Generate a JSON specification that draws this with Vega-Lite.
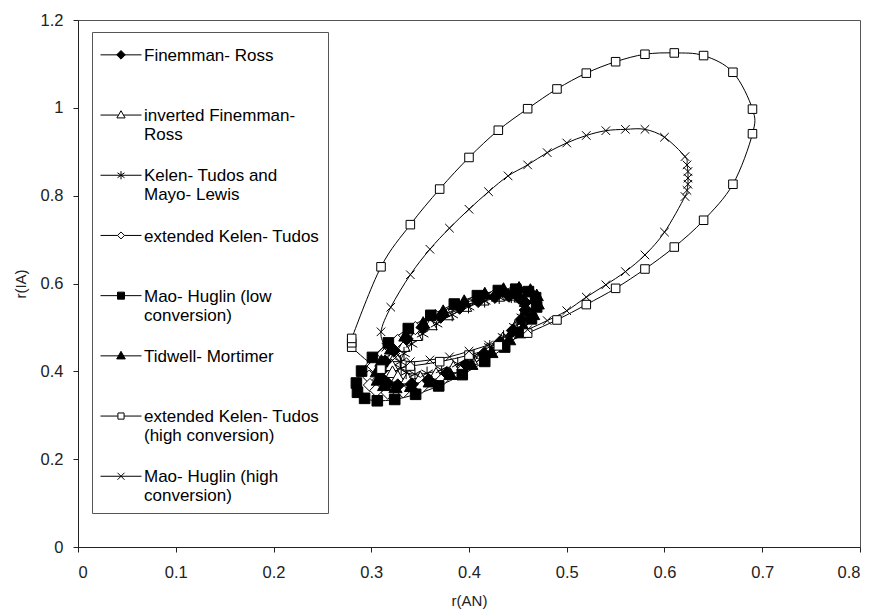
{
  "$schema": "https://vega.github.io/schema/vega-lite/v6.json",
  "width": 782,
  "height": 527,
  "autosize": {"type": "none"},
  "padding": {"left": 78, "top": 20, "right": 13, "bottom": 67},
  "background": "white",
  "config": {
    "view": {"stroke": "#555", "strokeWidth": 1},
    "font": "Liberation Sans",
    "legend": {"symbolStrokeColor": "black", "symbolStrokeWidth": 1, "symbolOpacity": 1}
  },
  "data": {"values": [
    {"s":"inverted Finemman- Ross","i":0,"x":0.4583,"y":0.5588},{"s":"inverted Finemman- Ross","i":1,"x":0.4528,"y":0.5691},{"s":"inverted Finemman- Ross","i":2,"x":0.4431,"y":0.5733},{"s":"inverted Finemman- Ross","i":3,"x":0.4297,"y":0.571},{"s":"inverted Finemman- Ross","i":4,"x":0.4137,"y":0.5623},{"s":"inverted Finemman- Ross","i":5,"x":0.396,"y":0.5479},{"s":"inverted Finemman- Ross","i":6,"x":0.3779,"y":0.5287},{"s":"inverted Finemman- Ross","i":7,"x":0.3607,"y":0.5061},{"s":"inverted Finemman- Ross","i":8,"x":0.3454,"y":0.4815},{"s":"inverted Finemman- Ross","i":9,"x":0.3331,"y":0.4567},{"s":"inverted Finemman- Ross","i":10,"x":0.3248,"y":0.4334},{"s":"inverted Finemman- Ross","i":11,"x":0.3209,"y":0.4131},{"s":"inverted Finemman- Ross","i":12,"x":0.3217,"y":0.3972},{"s":"inverted Finemman- Ross","i":13,"x":0.3272,"y":0.3869},{"s":"inverted Finemman- Ross","i":14,"x":0.3369,"y":0.3827},{"s":"inverted Finemman- Ross","i":15,"x":0.3503,"y":0.385},{"s":"inverted Finemman- Ross","i":16,"x":0.3663,"y":0.3937},{"s":"inverted Finemman- Ross","i":17,"x":0.384,"y":0.4081},{"s":"inverted Finemman- Ross","i":18,"x":0.4021,"y":0.4273},{"s":"inverted Finemman- Ross","i":19,"x":0.4193,"y":0.4499},{"s":"inverted Finemman- Ross","i":20,"x":0.4346,"y":0.4745},{"s":"inverted Finemman- Ross","i":21,"x":0.4469,"y":0.4993},{"s":"inverted Finemman- Ross","i":22,"x":0.4552,"y":0.5226},{"s":"inverted Finemman- Ross","i":23,"x":0.4591,"y":0.5429},
    {"s":"Kelen- Tudos and Mayo- Lewis","i":0,"x":0.4574,"y":0.557},{"s":"Kelen- Tudos and Mayo- Lewis","i":1,"x":0.4523,"y":0.5666},{"s":"Kelen- Tudos and Mayo- Lewis","i":2,"x":0.4433,"y":0.5705},{"s":"Kelen- Tudos and Mayo- Lewis","i":3,"x":0.4309,"y":0.5683},{"s":"Kelen- Tudos and Mayo- Lewis","i":4,"x":0.416,"y":0.5602},{"s":"Kelen- Tudos and Mayo- Lewis","i":5,"x":0.3995,"y":0.5469},{"s":"Kelen- Tudos and Mayo- Lewis","i":6,"x":0.3828,"y":0.529},{"s":"Kelen- Tudos and Mayo- Lewis","i":7,"x":0.3668,"y":0.5081},{"s":"Kelen- Tudos and Mayo- Lewis","i":8,"x":0.3526,"y":0.4853},{"s":"Kelen- Tudos and Mayo- Lewis","i":9,"x":0.3412,"y":0.4623},{"s":"Kelen- Tudos and Mayo- Lewis","i":10,"x":0.3335,"y":0.4406},{"s":"Kelen- Tudos and Mayo- Lewis","i":11,"x":0.3298,"y":0.4217},{"s":"Kelen- Tudos and Mayo- Lewis","i":12,"x":0.3306,"y":0.407},{"s":"Kelen- Tudos and Mayo- Lewis","i":13,"x":0.3357,"y":0.3974},{"s":"Kelen- Tudos and Mayo- Lewis","i":14,"x":0.3447,"y":0.3935},{"s":"Kelen- Tudos and Mayo- Lewis","i":15,"x":0.3571,"y":0.3957},{"s":"Kelen- Tudos and Mayo- Lewis","i":16,"x":0.372,"y":0.4038},{"s":"Kelen- Tudos and Mayo- Lewis","i":17,"x":0.3885,"y":0.4171},{"s":"Kelen- Tudos and Mayo- Lewis","i":18,"x":0.4052,"y":0.435},{"s":"Kelen- Tudos and Mayo- Lewis","i":19,"x":0.4212,"y":0.4559},{"s":"Kelen- Tudos and Mayo- Lewis","i":20,"x":0.4354,"y":0.4787},{"s":"Kelen- Tudos and Mayo- Lewis","i":21,"x":0.4468,"y":0.5017},{"s":"Kelen- Tudos and Mayo- Lewis","i":22,"x":0.4545,"y":0.5234},{"s":"Kelen- Tudos and Mayo- Lewis","i":23,"x":0.4582,"y":0.5423},
    {"s":"extended Kelen- Tudos","i":0,"x":0.4613,"y":0.5612},{"s":"extended Kelen- Tudos","i":1,"x":0.4548,"y":0.5735},{"s":"extended Kelen- Tudos","i":2,"x":0.4432,"y":0.5784},{"s":"extended Kelen- Tudos","i":3,"x":0.4273,"y":0.5757},{"s":"extended Kelen- Tudos","i":4,"x":0.4082,"y":0.5653},{"s":"extended Kelen- Tudos","i":5,"x":0.3871,"y":0.5482},{"s":"extended Kelen- Tudos","i":6,"x":0.3656,"y":0.5253},{"s":"extended Kelen- Tudos","i":7,"x":0.3451,"y":0.4984},{"s":"extended Kelen- Tudos","i":8,"x":0.3269,"y":0.4692},{"s":"extended Kelen- Tudos","i":9,"x":0.3123,"y":0.4397},{"s":"extended Kelen- Tudos","i":10,"x":0.3024,"y":0.4119},{"s":"extended Kelen- Tudos","i":11,"x":0.2977,"y":0.3877},{"s":"extended Kelen- Tudos","i":12,"x":0.2987,"y":0.3688},{"s":"extended Kelen- Tudos","i":13,"x":0.3052,"y":0.3565},{"s":"extended Kelen- Tudos","i":14,"x":0.3168,"y":0.3516},{"s":"extended Kelen- Tudos","i":15,"x":0.3327,"y":0.3543},{"s":"extended Kelen- Tudos","i":16,"x":0.3518,"y":0.3647},{"s":"extended Kelen- Tudos","i":17,"x":0.3729,"y":0.3818},{"s":"extended Kelen- Tudos","i":18,"x":0.3944,"y":0.4047},{"s":"extended Kelen- Tudos","i":19,"x":0.4149,"y":0.4316},{"s":"extended Kelen- Tudos","i":20,"x":0.4331,"y":0.4608},{"s":"extended Kelen- Tudos","i":21,"x":0.4477,"y":0.4903},{"s":"extended Kelen- Tudos","i":22,"x":0.4576,"y":0.5181},{"s":"extended Kelen- Tudos","i":23,"x":0.4623,"y":0.5423},
    {"s":"Finemman- Ross","i":0,"x":0.4572,"y":0.5566},{"s":"Finemman- Ross","i":1,"x":0.4513,"y":0.5677},{"s":"Finemman- Ross","i":2,"x":0.4409,"y":0.5721},{"s":"Finemman- Ross","i":3,"x":0.4266,"y":0.5696},{"s":"Finemman- Ross","i":4,"x":0.4094,"y":0.5603},{"s":"Finemman- Ross","i":5,"x":0.3904,"y":0.5449},{"s":"Finemman- Ross","i":6,"x":0.371,"y":0.5243},{"s":"Finemman- Ross","i":7,"x":0.3526,"y":0.5001},{"s":"Finemman- Ross","i":8,"x":0.3362,"y":0.4738},{"s":"Finemman- Ross","i":9,"x":0.3231,"y":0.4472},{"s":"Finemman- Ross","i":10,"x":0.3142,"y":0.4222},{"s":"Finemman- Ross","i":11,"x":0.3099,"y":0.4004},{"s":"Finemman- Ross","i":12,"x":0.3108,"y":0.3834},{"s":"Finemman- Ross","i":13,"x":0.3167,"y":0.3723},{"s":"Finemman- Ross","i":14,"x":0.3271,"y":0.3679},{"s":"Finemman- Ross","i":15,"x":0.3414,"y":0.3704},{"s":"Finemman- Ross","i":16,"x":0.3586,"y":0.3797},{"s":"Finemman- Ross","i":17,"x":0.3776,"y":0.3951},{"s":"Finemman- Ross","i":18,"x":0.397,"y":0.4157},{"s":"Finemman- Ross","i":19,"x":0.4154,"y":0.4399},{"s":"Finemman- Ross","i":20,"x":0.4318,"y":0.4662},{"s":"Finemman- Ross","i":21,"x":0.4449,"y":0.4928},{"s":"Finemman- Ross","i":22,"x":0.4538,"y":0.5178},{"s":"Finemman- Ross","i":23,"x":0.4581,"y":0.5396},
    {"s":"Mao- Huglin (low conversion)","i":0,"x":0.4681,"y":0.5677},{"s":"Mao- Huglin (low conversion)","i":1,"x":0.4608,"y":0.5815},{"s":"Mao- Huglin (low conversion)","i":2,"x":0.4478,"y":0.587},{"s":"Mao- Huglin (low conversion)","i":3,"x":0.43,"y":0.584},{"s":"Mao- Huglin (low conversion)","i":4,"x":0.4086,"y":0.5723},{"s":"Mao- Huglin (low conversion)","i":5,"x":0.385,"y":0.5532},{"s":"Mao- Huglin (low conversion)","i":6,"x":0.3609,"y":0.5275},{"s":"Mao- Huglin (low conversion)","i":7,"x":0.3379,"y":0.4974},{"s":"Mao- Huglin (low conversion)","i":8,"x":0.3175,"y":0.4647},{"s":"Mao- Huglin (low conversion)","i":9,"x":0.3012,"y":0.4317},{"s":"Mao- Huglin (low conversion)","i":10,"x":0.2901,"y":0.4005},{"s":"Mao- Huglin (low conversion)","i":11,"x":0.2848,"y":0.3734},{"s":"Mao- Huglin (low conversion)","i":12,"x":0.2859,"y":0.3523},{"s":"Mao- Huglin (low conversion)","i":13,"x":0.2932,"y":0.3385},{"s":"Mao- Huglin (low conversion)","i":14,"x":0.3062,"y":0.333},{"s":"Mao- Huglin (low conversion)","i":15,"x":0.324,"y":0.336},{"s":"Mao- Huglin (low conversion)","i":16,"x":0.3454,"y":0.3477},{"s":"Mao- Huglin (low conversion)","i":17,"x":0.369,"y":0.3668},{"s":"Mao- Huglin (low conversion)","i":18,"x":0.3931,"y":0.3925},{"s":"Mao- Huglin (low conversion)","i":19,"x":0.4161,"y":0.4226},{"s":"Mao- Huglin (low conversion)","i":20,"x":0.4365,"y":0.4553},{"s":"Mao- Huglin (low conversion)","i":21,"x":0.4528,"y":0.4883},{"s":"Mao- Huglin (low conversion)","i":22,"x":0.4639,"y":0.5195},{"s":"Mao- Huglin (low conversion)","i":23,"x":0.4692,"y":0.5466},
    {"s":"Tidwell- Mortimer","i":0,"x":0.4693,"y":0.5722},{"s":"Tidwell- Mortimer","i":1,"x":0.4628,"y":0.5845},{"s":"Tidwell- Mortimer","i":2,"x":0.4512,"y":0.5894},{"s":"Tidwell- Mortimer","i":3,"x":0.4353,"y":0.5867},{"s":"Tidwell- Mortimer","i":4,"x":0.4162,"y":0.5763},{"s":"Tidwell- Mortimer","i":5,"x":0.3951,"y":0.5592},{"s":"Tidwell- Mortimer","i":6,"x":0.3736,"y":0.5363},{"s":"Tidwell- Mortimer","i":7,"x":0.3531,"y":0.5094},{"s":"Tidwell- Mortimer","i":8,"x":0.3349,"y":0.4802},{"s":"Tidwell- Mortimer","i":9,"x":0.3203,"y":0.4507},{"s":"Tidwell- Mortimer","i":10,"x":0.3104,"y":0.4229},{"s":"Tidwell- Mortimer","i":11,"x":0.3057,"y":0.3987},{"s":"Tidwell- Mortimer","i":12,"x":0.3067,"y":0.3798},{"s":"Tidwell- Mortimer","i":13,"x":0.3132,"y":0.3675},{"s":"Tidwell- Mortimer","i":14,"x":0.3248,"y":0.3626},{"s":"Tidwell- Mortimer","i":15,"x":0.3407,"y":0.3653},{"s":"Tidwell- Mortimer","i":16,"x":0.3598,"y":0.3757},{"s":"Tidwell- Mortimer","i":17,"x":0.3809,"y":0.3928},{"s":"Tidwell- Mortimer","i":18,"x":0.4024,"y":0.4157},{"s":"Tidwell- Mortimer","i":19,"x":0.4229,"y":0.4426},{"s":"Tidwell- Mortimer","i":20,"x":0.4411,"y":0.4718},{"s":"Tidwell- Mortimer","i":21,"x":0.4557,"y":0.5013},{"s":"Tidwell- Mortimer","i":22,"x":0.4656,"y":0.5291},{"s":"Tidwell- Mortimer","i":23,"x":0.4703,"y":0.5533},
    {"s":"extended Kelen- Tudos (high conversion)","i":0,"x":0.28,"y":0.455},{"s":"extended Kelen- Tudos (high conversion)","i":1,"x":0.28,"y":0.465},{"s":"extended Kelen- Tudos (high conversion)","i":2,"x":0.28,"y":0.475},{"s":"extended Kelen- Tudos (high conversion)","i":3,"x":0.31,"y":0.638},{"s":"extended Kelen- Tudos (high conversion)","i":4,"x":0.34,"y":0.734},{"s":"extended Kelen- Tudos (high conversion)","i":5,"x":0.37,"y":0.815},{"s":"extended Kelen- Tudos (high conversion)","i":6,"x":0.4,"y":0.887},{"s":"extended Kelen- Tudos (high conversion)","i":7,"x":0.43,"y":0.949},{"s":"extended Kelen- Tudos (high conversion)","i":8,"x":0.46,"y":0.998},{"s":"extended Kelen- Tudos (high conversion)","i":9,"x":0.49,"y":1.043},{"s":"extended Kelen- Tudos (high conversion)","i":10,"x":0.52,"y":1.079},{"s":"extended Kelen- Tudos (high conversion)","i":11,"x":0.55,"y":1.105},{"s":"extended Kelen- Tudos (high conversion)","i":12,"x":0.58,"y":1.122},{"s":"extended Kelen- Tudos (high conversion)","i":13,"x":0.61,"y":1.125},{"s":"extended Kelen- Tudos (high conversion)","i":14,"x":0.64,"y":1.119},{"s":"extended Kelen- Tudos (high conversion)","i":15,"x":0.67,"y":1.081},{"s":"extended Kelen- Tudos (high conversion)","i":16,"x":0.69,"y":0.997},{"s":"extended Kelen- Tudos (high conversion)","i":17,"x":0.69,"y":0.941},{"s":"extended Kelen- Tudos (high conversion)","i":18,"x":0.67,"y":0.826},{"s":"extended Kelen- Tudos (high conversion)","i":19,"x":0.64,"y":0.744},{"s":"extended Kelen- Tudos (high conversion)","i":20,"x":0.61,"y":0.683},{"s":"extended Kelen- Tudos (high conversion)","i":21,"x":0.58,"y":0.633},{"s":"extended Kelen- Tudos (high conversion)","i":22,"x":0.55,"y":0.589},{"s":"extended Kelen- Tudos (high conversion)","i":23,"x":0.52,"y":0.552},{"s":"extended Kelen- Tudos (high conversion)","i":24,"x":0.49,"y":0.517},{"s":"extended Kelen- Tudos (high conversion)","i":25,"x":0.46,"y":0.487},{"s":"extended Kelen- Tudos (high conversion)","i":26,"x":0.43,"y":0.458},{"s":"extended Kelen- Tudos (high conversion)","i":27,"x":0.4,"y":0.437},{"s":"extended Kelen- Tudos (high conversion)","i":28,"x":0.37,"y":0.422},{"s":"extended Kelen- Tudos (high conversion)","i":29,"x":0.34,"y":0.412},{"s":"extended Kelen- Tudos (high conversion)","i":30,"x":0.31,"y":0.405},
    {"s":"Mao- Huglin (high conversion)","i":0,"x":0.31,"y":0.49},{"s":"Mao- Huglin (high conversion)","i":1,"x":0.315,"y":0.455},{"s":"Mao- Huglin (high conversion)","i":2,"x":0.325,"y":0.432},{"s":"Mao- Huglin (high conversion)","i":3,"x":0.34,"y":0.422},{"s":"Mao- Huglin (high conversion)","i":4,"x":0.36,"y":0.426},{"s":"Mao- Huglin (high conversion)","i":5,"x":0.38,"y":0.433},{"s":"Mao- Huglin (high conversion)","i":6,"x":0.4,"y":0.446},{"s":"Mao- Huglin (high conversion)","i":7,"x":0.42,"y":0.46},{"s":"Mao- Huglin (high conversion)","i":8,"x":0.44,"y":0.476},{"s":"Mao- Huglin (high conversion)","i":9,"x":0.46,"y":0.495},{"s":"Mao- Huglin (high conversion)","i":10,"x":0.48,"y":0.5155},{"s":"Mao- Huglin (high conversion)","i":11,"x":0.5,"y":0.538},{"s":"Mao- Huglin (high conversion)","i":12,"x":0.52,"y":0.569},{"s":"Mao- Huglin (high conversion)","i":13,"x":0.54,"y":0.597},{"s":"Mao- Huglin (high conversion)","i":14,"x":0.56,"y":0.627},{"s":"Mao- Huglin (high conversion)","i":15,"x":0.58,"y":0.665},{"s":"Mao- Huglin (high conversion)","i":16,"x":0.6,"y":0.717},{"s":"Mao- Huglin (high conversion)","i":17,"x":0.621,"y":0.798},{"s":"Mao- Huglin (high conversion)","i":18,"x":0.623,"y":0.812},{"s":"Mao- Huglin (high conversion)","i":19,"x":0.624,"y":0.826},{"s":"Mao- Huglin (high conversion)","i":20,"x":0.624,"y":0.84},{"s":"Mao- Huglin (high conversion)","i":21,"x":0.624,"y":0.855},{"s":"Mao- Huglin (high conversion)","i":22,"x":0.623,"y":0.87},{"s":"Mao- Huglin (high conversion)","i":23,"x":0.621,"y":0.889},{"s":"Mao- Huglin (high conversion)","i":24,"x":0.6,"y":0.933},{"s":"Mao- Huglin (high conversion)","i":25,"x":0.58,"y":0.951},{"s":"Mao- Huglin (high conversion)","i":26,"x":0.56,"y":0.951},{"s":"Mao- Huglin (high conversion)","i":27,"x":0.54,"y":0.948},{"s":"Mao- Huglin (high conversion)","i":28,"x":0.52,"y":0.937},{"s":"Mao- Huglin (high conversion)","i":29,"x":0.5,"y":0.92},{"s":"Mao- Huglin (high conversion)","i":30,"x":0.48,"y":0.898},{"s":"Mao- Huglin (high conversion)","i":31,"x":0.46,"y":0.87},{"s":"Mao- Huglin (high conversion)","i":32,"x":0.44,"y":0.845},{"s":"Mao- Huglin (high conversion)","i":33,"x":0.42,"y":0.809},{"s":"Mao- Huglin (high conversion)","i":34,"x":0.4,"y":0.769},{"s":"Mao- Huglin (high conversion)","i":35,"x":0.38,"y":0.726},{"s":"Mao- Huglin (high conversion)","i":36,"x":0.36,"y":0.678},{"s":"Mao- Huglin (high conversion)","i":37,"x":0.34,"y":0.62},{"s":"Mao- Huglin (high conversion)","i":38,"x":0.32,"y":0.546}
  ]},
  "encoding": {
    "x": {"field": "x", "type": "quantitative", "scale": {"domain": [0, 0.8], "nice": false, "zero": false},
      "axis": {"title": "r(AN)", "values": [0, 0.1, 0.2, 0.3, 0.4, 0.5, 0.6, 0.7, 0.8], "format": ".1~f", "grid": false,
        "domainColor": "#222", "tickColor": "#222", "tickSize": 5, "labelFont": "Liberation Sans", "labelFontSize": 16.5, "labelColor": "#222", "labelPadding": 12,
        "titleFont": "Liberation Sans", "titleFontSize": 15, "titleFontWeight": "normal", "titleColor": "#222", "titlePadding": 13}},
    "y": {"field": "y", "type": "quantitative", "scale": {"domain": [0, 1.2], "nice": false, "zero": false},
      "axis": {"title": "r(IA)", "values": [0, 0.2, 0.4, 0.6, 0.8, 1, 1.2], "format": ".1~f", "grid": false,
        "domainColor": "#222", "tickColor": "#222", "tickSize": 5, "labelFont": "Liberation Sans", "labelFontSize": 16.5, "labelColor": "#222", "labelPadding": 10,
        "titleFont": "Liberation Sans", "titleFontSize": 15, "titleFontWeight": "normal", "titleColor": "#222", "titlePadding": 12}}
  },
  "layer": [
    {"mark": {"type": "line", "interpolate": "cardinal-closed", "stroke": "black", "strokeWidth": 1},
     "encoding": {"detail": {"field": "s", "type": "nominal"}, "order": {"field": "i", "type": "quantitative"}}},
    {"mark": {"type": "point", "opacity": 1, "stroke": "black", "strokeWidth": 1},
     "encoding": {
       "size": {"condition": {"test": "datum.s == 'extended Kelen- Tudos (high conversion)' || datum.s == 'Mao- Huglin (high conversion)'", "value": 90}, "value": 175},
       "fill": {"field": "s", "type": "nominal", "legend": null,
         "scale": {"domain": ["Finemman- Ross", "inverted Finemman- Ross", "Kelen- Tudos and Mayo- Lewis", "extended Kelen- Tudos", "Mao- Huglin (low conversion)", "Tidwell- Mortimer", "extended Kelen- Tudos (high conversion)", "Mao- Huglin (high conversion)"],
                   "range": ["black", "white", "white", "white", "black", "black", "white", "white"]}},
       "shape": {"field": "s", "type": "nominal", "legend": null,
         "scale": {"domain": ["Finemman- Ross", "inverted Finemman- Ross", "Kelen- Tudos and Mayo- Lewis", "extended Kelen- Tudos", "Mao- Huglin (low conversion)", "Tidwell- Mortimer", "extended Kelen- Tudos (high conversion)", "Mao- Huglin (high conversion)"],
                   "range": ["M0,-1L1,0L0,1L-1,0Z", "M0,-1L1,0.75L-1,0.75Z", "M0,-1L0,1M-0.87,-0.5L0.87,0.5M-0.87,0.5L0.87,-0.5", "M0,-1L1,0L0,1L-1,0Z", "M-0.8,-0.8L0.8,-0.8L0.8,0.8L-0.8,0.8Z", "M0,-1L1,0.75L-1,0.75Z", "M-0.9,-0.9L0.9,-0.9L0.9,0.9L-0.9,0.9Z", "M-0.9,-0.9L0.9,0.9M-0.9,0.9L0.9,-0.9"]}}
     }},
    {"transform": [{"filter": "datum.i < 0"}],
     "mark": {"type": "point", "opacity": 1, "strokeWidth": 1},
     "encoding": {
       "stroke": {"field": "s", "type": "nominal",
         "scale": {"domain": ["Finemman- Ross", "inverted Finemman- Ross", "Kelen- Tudos and Mayo- Lewis", "extended Kelen- Tudos", "Mao- Huglin (low conversion)", "Tidwell- Mortimer", "extended Kelen- Tudos (high conversion)", "Mao- Huglin (high conversion)"],
                   "range": ["black", "black", "black", "black", "black", "black", "black", "black"]}},
       "fill": {"field": "s", "type": "nominal",
         "scale": {"domain": ["Finemman- Ross", "inverted Finemman- Ross", "Kelen- Tudos and Mayo- Lewis", "extended Kelen- Tudos", "Mao- Huglin (low conversion)", "Tidwell- Mortimer", "extended Kelen- Tudos (high conversion)", "Mao- Huglin (high conversion)"],
                   "range": ["black", "white", "white", "white", "black", "black", "white", "white"]}},
       "shape": {"field": "s", "type": "nominal",
         "scale": {"domain": ["Finemman- Ross", "inverted Finemman- Ross", "Kelen- Tudos and Mayo- Lewis", "extended Kelen- Tudos", "Mao- Huglin (low conversion)", "Tidwell- Mortimer", "extended Kelen- Tudos (high conversion)", "Mao- Huglin (high conversion)"],
                   "range": [
                     "M-1,-0.3L1,-0.3M0,-0.51L0.21,-0.3L0,-0.09L-0.21,-0.3Z",
                     "M-1,-0.3L-0.12,-0.3M0.12,-0.3L1,-0.3M0,-0.51L0.2,-0.16L-0.2,-0.16Z",
                     "M-1,-0.3L1,-0.3M0,-0.5L0,-0.1M-0.17,-0.42L0.17,-0.18M-0.17,-0.18L0.17,-0.42",
                     "M-1,-0.3L-0.17,-0.3M0.17,-0.3L1,-0.3M0,-0.47L0.17,-0.3L0,-0.13L-0.17,-0.3Z",
                     "M-1,-0.3L1,-0.3M-0.17,-0.47L0.17,-0.47L0.17,-0.13L-0.17,-0.13Z",
                     "M-1,-0.3L1,-0.3M0,-0.52L0.21,-0.15L-0.21,-0.15Z",
                     "M-1,-0.3L-0.15,-0.3M0.15,-0.3L1,-0.3M-0.15,-0.45L0.15,-0.45L0.15,-0.15L-0.15,-0.15Z",
                     "M-1,-0.3L1,-0.3M-0.17,-0.47L0.17,-0.13M-0.17,-0.13L0.17,-0.47"]},
         "legend": {
           "title": null, "orient": "none", "legendX": 14, "legendY": 12,
           "padding": 8, "strokeColor": "#555", "fillColor": "white",
           "labelFont": "Liberation Sans", "labelFontSize": 17, "labelColor": "black", "labelLimit": 400, "labelOffset": 2,
           "labelBaseline": "alphabetic",
           "symbolSize": 1681, "rowPadding": 17.2,
           "labelExpr": "datum.label == 'inverted Finemman- Ross' ? ['inverted Finemman-', 'Ross'] : datum.label == 'Kelen- Tudos and Mayo- Lewis' ? ['Kelen- Tudos and', 'Mayo- Lewis'] : datum.label == 'Mao- Huglin (low conversion)' ? ['Mao- Huglin (low', 'conversion)'] : datum.label == 'extended Kelen- Tudos (high conversion)' ? ['extended Kelen- Tudos', '(high conversion)'] : datum.label == 'Mao- Huglin (high conversion)' ? ['Mao- Huglin (high', 'conversion)'] : [datum.label, ' ']"
         }}
     }}
  ],
  "resolve": {"scale": {"shape": "independent", "fill": "independent", "stroke": "independent"}, "legend": {"shape": "independent", "fill": "independent", "stroke": "independent"}}
}
